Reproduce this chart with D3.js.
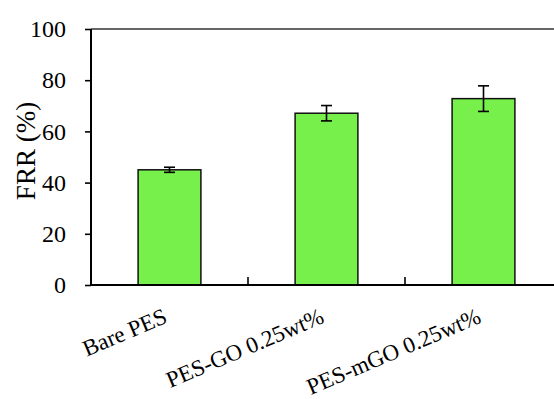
<!DOCTYPE html>
<html>
<head>
<meta charset="utf-8">
<script src="https://cdn.jsdelivr.net/npm/d3@7"></script>
<style>
  body { margin: 0; background: #fff; }
  svg text { font-family: "Times New Roman", "Liberation Serif", Times, serif; }
</style>
</head>
<body>
<script>
// Data
const categories = ["Bare PES", "PES-GO 0.25wt%", "PES-mGO 0.25wt%"];
const frrValues  = [45.0, 67.1, 72.8];
const frrErrors  = [1.0, 3.0, 5.0];
const yTicks     = [0, 20, 40, 60, 80, 100];

const data = categories.map((c, i) => ({ name: c, value: frrValues[i], err: frrErrors[i] }));

const width = 554;
const height = 399;

const svg = d3.select("body").append("svg")
    .attr("width", width)
    .attr("height", height);

const xscale = d3.scaleBand()
    .domain(categories)
    .range([91, 562])
    .paddingInner(0.6)
    .paddingOuter(0.3);

const yscale = d3.scaleLinear()
    .domain([0, 100])
    .range([285, 29]);

// top border of plot area
svg.append("line")
    .attr("x1", 91).attr("x2", width)
    .attr("y1", yscale(100)).attr("y2", yscale(100))
    .attr("stroke", "#333")
    .attr("stroke-width", 1.6);

// bars
svg.selectAll("rect.bar")
    .data(data)
    .enter()
    .append("rect")
    .attr("class", "bar")
    .attr("x", d => xscale(d.name))
    .attr("y", d => yscale(d.value))
    .attr("width", xscale.bandwidth())
    .attr("height", d => yscale(0) - yscale(d.value))
    .attr("fill", "#78f04b")
    .attr("stroke", "#111")
    .attr("stroke-width", 1.5);

// error bars
const eb = svg.selectAll("g.err")
    .data(data)
    .enter()
    .append("g")
    .attr("class", "err")
    .attr("stroke", "#000")
    .attr("stroke-width", 1.6);

const cx = d => xscale(d.name) + xscale.bandwidth() / 2;
eb.append("line")
    .attr("x1", cx).attr("x2", cx)
    .attr("y1", d => yscale(d.value + d.err))
    .attr("y2", d => yscale(d.value - d.err));
eb.append("line")
    .attr("x1", d => cx(d) - 5.5).attr("x2", d => cx(d) + 5.5)
    .attr("y1", d => yscale(d.value + d.err))
    .attr("y2", d => yscale(d.value + d.err));
eb.append("line")
    .attr("x1", d => cx(d) - 5.5).attr("x2", d => cx(d) + 5.5)
    .attr("y1", d => yscale(d.value - d.err))
    .attr("y2", d => yscale(d.value - d.err));

// y axis
const yaxis = svg.append("g")
    .attr("transform", "translate(91,0)")
    .call(d3.axisLeft(yscale).tickValues(yTicks).tickSize(6).tickPadding(19).tickFormat(d3.format("d")));
yaxis.attr("font-family", null).attr("font-size", null);
yaxis.select(".domain").attr("stroke-width", 2).attr("d", `M0,${yscale(100)}V${yscale(0)}`);
yaxis.selectAll(".tick line").attr("stroke-width", 1.6);
yaxis.selectAll("text")
    .attr("font-size", 24)
    .attr("fill", "#000");

// x axis line
svg.append("line")
    .attr("x1", 90).attr("x2", width)
    .attr("y1", yscale(0)).attr("y2", yscale(0))
    .attr("stroke", "#000")
    .attr("stroke-width", 2.2);

// category separator ticks (inside)
svg.selectAll("line.sep")
    .data(categories.slice(1))
    .enter()
    .append("line")
    .attr("class", "sep")
    .attr("x1", d => xscale(d) - xscale.step() * xscale.paddingInner() / 2)
    .attr("x2", d => xscale(d) - xscale.step() * xscale.paddingInner() / 2)
    .attr("y1", yscale(0))
    .attr("y2", yscale(0) - 8)
    .attr("stroke", "#000")
    .attr("stroke-width", 1.6);

// x labels, rotated
svg.selectAll("text.xlab")
    .data(categories)
    .enter()
    .append("text")
    .attr("class", "xlab")
    .attr("text-anchor", "end")
    .attr("font-size", 23)
    .attr("transform", d => `translate(${xscale(d) + xscale.bandwidth() / 2 - 1},322) rotate(-23)`)
    .text(d => d);

// y label
svg.append("text")
    .attr("text-anchor", "middle")
    .attr("font-size", 27)
    .attr("transform", "translate(35,151) rotate(-90)")
    .text("FRR (%)");
</script>
</body>
</html>
